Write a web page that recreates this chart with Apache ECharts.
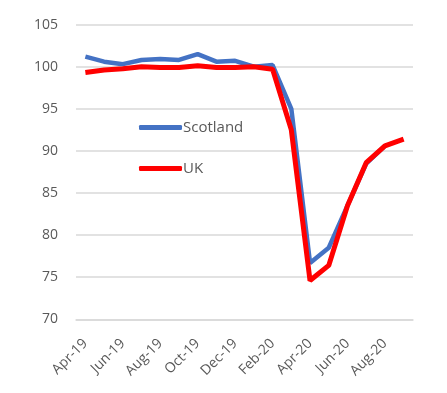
<!DOCTYPE html>
<html><head><meta charset="utf-8">
<script src="https://cdn.jsdelivr.net/npm/echarts@6/dist/echarts.min.js"></script>
<style>html,body{margin:0;padding:0;background:#fff}#c{width:447px;height:393px}</style>
</head><body><div id="c"></div>
<script>
const categories = ['Apr-19','May-19','Jun-19','Jul-19','Aug-19','Sep-19','Oct-19','Nov-19','Dec-19','Jan-20','Feb-20','Mar-20','Apr-20','May-20','Jun-20','Jul-20','Aug-20','Sep-20'];
const scotland = [101.2,100.6,100.3,100.8,100.9,100.8,101.5,100.6,100.7,100.0,100.2,95.0,76.7,78.5,83.5,88.5,90.6,null];
const uk = [99.3,99.6,99.75,100.0,99.9,99.9,100.1,99.9,99.9,100.0,99.7,92.5,74.6,76.4,83.5,88.6,90.6,91.4];
const yTicks = {min:70, max:105, interval:5};

const font = 'Open Sans, Liberation Sans, sans-serif';
const chart = echarts.init(document.getElementById('c'));
chart.setOption({
  animation:false,
  grid:{left:76, right:34, top:24.6, bottom:73.7},
  legend:{
    orient:'vertical', left:134, top:115, itemGap:26,
    icon:'roundRect', itemWidth:43, itemHeight:5,
    textStyle:{color:'#595959', fontSize:15, fontFamily:font, padding:[0,0,0,-4]},
    data:['Scotland','UK']
  },
  xAxis:{
    type:'category', data:categories, boundaryGap:true,
    axisLine:{show:true, lineStyle:{color:'#d9d9d9', width:1.5}},
    axisTick:{show:false},
    axisLabel:{interval:1, rotate:45, color:'#595959', fontSize:14, fontFamily:font, margin:22}
  },
  yAxis:{
    type:'value', min:yTicks.min, max:yTicks.max, interval:yTicks.interval,
    axisLine:{show:false}, axisTick:{show:false},
    splitLine:{lineStyle:{color:'#d9d9d9', width:1.5}},
    axisLabel:{color:'#595959', fontSize:14, fontFamily:font, margin:18}
  },
  series:[
    {name:'Scotland', type:'line', data:scotland, symbol:'none', itemStyle:{color:'#4472c4'}, lineStyle:{color:'#4472c4', width:4.5}},
    {name:'UK', type:'line', data:uk, symbol:'none', itemStyle:{color:'#ff0000'}, lineStyle:{color:'#ff0000', width:5}}
  ]
});
</script></body></html>
